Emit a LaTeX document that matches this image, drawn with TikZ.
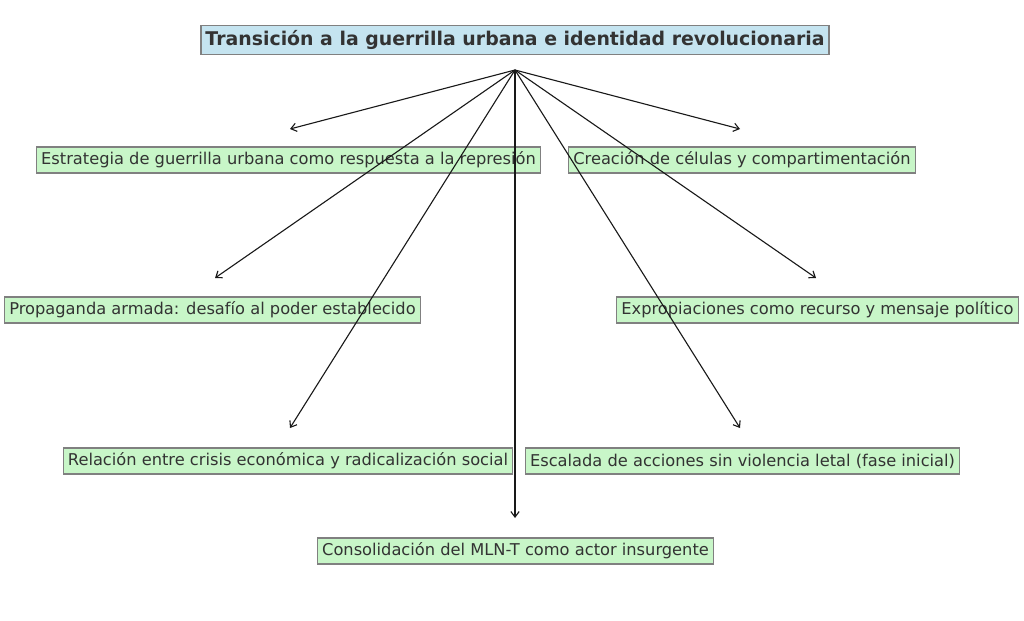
\documentclass[tikz,border=0pt]{standalone}
\usepackage{fontspec}
\setmainfont{DejaVu Sans}
\usetikzlibrary{arrows.meta,calc}
\definecolor{boxgreen}{RGB}{200,246,200}
\definecolor{boxblue}{RGB}{197,228,240}
\definecolor{boxedge}{RGB}{128,128,128}
\definecolor{txt}{RGB}{51,51,51}
\tikzset{
  topic/.style={draw=boxedge, fill=boxgreen, line width=0.8pt, text=txt,
    font=\fontsize{11.7}{14}\selectfont, inner xsep=3.4pt, inner ysep=0pt,
    minimum height=18.7pt},
  titlebox/.style={draw=boxedge, fill=boxblue, line width=0.8pt, text=txt,
    font=\fontsize{13.6}{16}\selectfont\bfseries, inner xsep=3.2pt, inner ysep=0pt,
    minimum height=20.9pt},
  link/.style={-{Straight Barb[length=4pt,width=6pt]}, line width=0.8pt, black!90}
}
\begin{document}
\begin{tikzpicture}[x=0.72pt,y=-0.72pt]
\useasboundingbox (0,0) rectangle (1024,621);
\node[titlebox] (t) at (515,40) {Transición a la guerrilla urbana e identidad revolucionaria};
\coordinate (src) at (515,70);
\node[topic] (a) at (288.5,160) {Estrategia de guerrilla urbana como respuesta a la represión};
\node[topic] (b) at (742,160) {Creación de células y compartimentación};
\node[topic] (c) at (212.5,310) {Propaganda armada: desafío al poder establecido};
\node[topic] (d) at (817.5,310) {Expropiaciones como recurso y mensaje político};
\node[topic] (e) at (288,461) {Relación entre crisis económica y radicalización social};
\node[topic] (f) at (742.5,461) {Escalada de acciones sin violencia letal (fase inicial)};
\node[topic] (g) at (515.5,551) {Consolidación del MLN-T como actor insurgente};
\draw[link] (src) -- ($(a.center)+(1.5,-31)$);
\draw[link] (src) -- ($(b.center)+(-2,-31)$);
\draw[link] (src) -- ($(c.center)+(2.5,-32)$);
\draw[link] (src) -- ($(d.center)+(-1.5,-32)$);
\draw[link] (src) -- ($(e.center)+(2,-33)$);
\draw[link] (src) -- ($(f.center)+(-2.5,-33)$);
\draw[link] (src) -- ($(g.center)+(-0.5,-33)$);
\end{tikzpicture}
\end{document}
